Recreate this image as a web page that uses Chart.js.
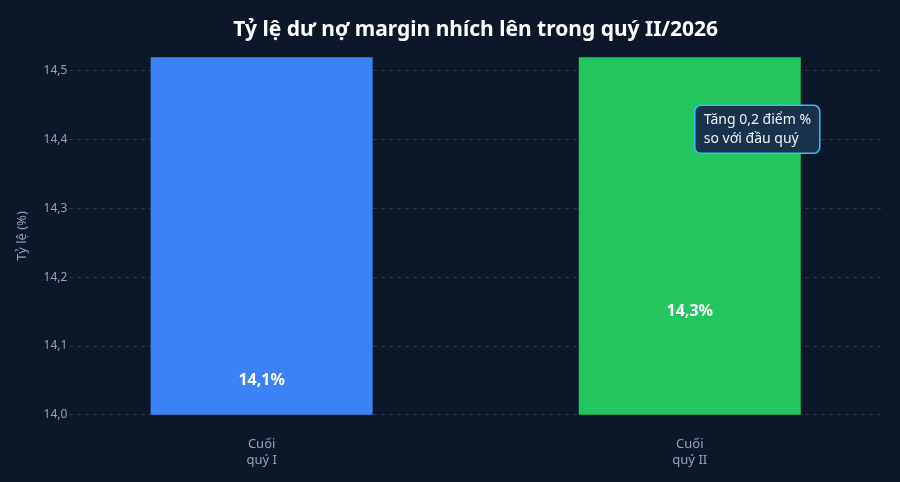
<!DOCTYPE html>
<html lang="vi">
<head>
<meta charset="UTF-8">
<title>Tỷ lệ dư nợ margin</title>
<style>
  html,body{margin:0;padding:0;background:#0c1729;}
  #wrap{width:900px;height:482px;}
</style>
</head>
<body>
<div id="wrap"><canvas id="c"></canvas></div>
<script src="https://cdn.jsdelivr.net/npm/chart.js"></script>
<script>
"use strict";

const categories = [["Cuối", "quý I"], ["Cuối", "quý II"]];
const ratios = [14.1, 14.3];
const barColors = ["#3b82f6", "#22c55e"];
const yTicks = [14.0, 14.1, 14.2, 14.3, 14.4, 14.5];
const Y_MIN = 14.0, Y_MAX = 14.52;
const noteLines = ["Tăng 0,2 điểm %", "so với đầu quý"];

const fmt = v => v.toFixed(1).replace(".", ",");

// bars in the picture run to the top of the plot: fill the rest with a stacked part
const topUp = ratios.map(v => Y_MAX - v);

const labelsPlugin = {
  id: "labels",
  afterDatasetsDraw(chart) {
    const ctx = chart.ctx, x = chart.scales.x, y = chart.scales.y;
    ctx.save();
    ctx.fillStyle = "#ffffff";
    ctx.font = "bold 16px 'Noto Sans'";
    ctx.textAlign = "center";
    ctx.textBaseline = "middle";
    ratios.forEach((v, i) => {
      const py = (y.getPixelForValue(v) + y.getPixelForValue(Y_MIN)) / 2;
      ctx.fillText(fmt(v) + "%", x.getPixelForValue(i), py);
    });

    // note box next to second bar
    const bx = x.getPixelForValue(1) + 5, by = y.getPixelForValue(14.45);
    const w = 125, h = 48, r = 6;
    ctx.beginPath();
    ctx.roundRect(bx, by, w, h, r);
    ctx.fillStyle = "#17324a";
    ctx.fill();
    ctx.lineWidth = 1.5;
    ctx.strokeStyle = "#38bdf8";
    ctx.stroke();
    ctx.fillStyle = "#eef2f7";
    ctx.font = "14px 'Noto Sans'";
    ctx.textAlign = "left";
    ctx.fillText(noteLines[0], bx + 9, by + 15);
    ctx.fillText(noteLines[1], bx + 9, by + 34);
    ctx.restore();
  }
};

new Chart(document.getElementById("c"), {
  type: "bar",
  data: {
    datasets: [
      {
        data: ratios.map((v, i) => ({x: i, y: v})),
        backgroundColor: barColors,
        borderWidth: 0,
        inflateAmount: 0.5,
        barThickness: 221
      },
      {
        data: topUp.map((v, i) => ({x: i, y: v})),
        backgroundColor: barColors,
        borderWidth: 0,
        inflateAmount: 0.5,
        barThickness: 221
      }
    ]
  },
  options: {
    responsive: true,
    maintainAspectRatio: false,
    animation: false,
    layout: {padding: {top: 9, right: 18, left: 10, bottom: 0}},
    plugins: {
      legend: {display: false},
      tooltip: {enabled: false},
      title: {
        display: true,
        fullSize: false,
        text: "Tỷ lệ dư nợ margin nhích lên trong quý II/2026",
        color: "#ffffff",
        font: {family: "'Noto Sans'", size: 21, weight: "bold"},
        padding: {top: 8, bottom: 15}
      }
    },
    scales: {
      x: {
        type: "linear",
        stacked: true,
        offset: false,
        min: -0.449,
        max: 1.449,
        afterBuildTicks: s => { s.ticks = categories.map((c, i) => ({value: i})); },
        ticks: {
          color: "#94a3b8",
          font: {family: "'Noto Sans'", size: 13},
          padding: 14,
          callback: v => categories[v]
        },
        grid: {display: false},
        border: {display: false}
      },
      y: {
        stacked: true,
        min: Y_MIN,
        max: Y_MAX,
        afterBuildTicks: s => { s.ticks = yTicks.map(v => ({value: v})); },
        ticks: {
          color: "#94a3b8",
          font: {family: "'Noto Sans'", size: 12},
          padding: 2,
          callback: v => fmt(v)
        },
        grid: {
          color: "rgba(100,116,139,0.35)",
          lineWidth: 1,
          drawTicks: false
        },
        border: {display: false, dash: [4, 4]},
        title: {
          display: true,
          text: "Tỷ lệ (%)",
          color: "#94a3b8",
          font: {family: "'Noto Sans'", size: 13},
          padding: {bottom: 12}
        }
      }
    }
  },
  plugins: [labelsPlugin]
});
</script>
</body>
</html>
